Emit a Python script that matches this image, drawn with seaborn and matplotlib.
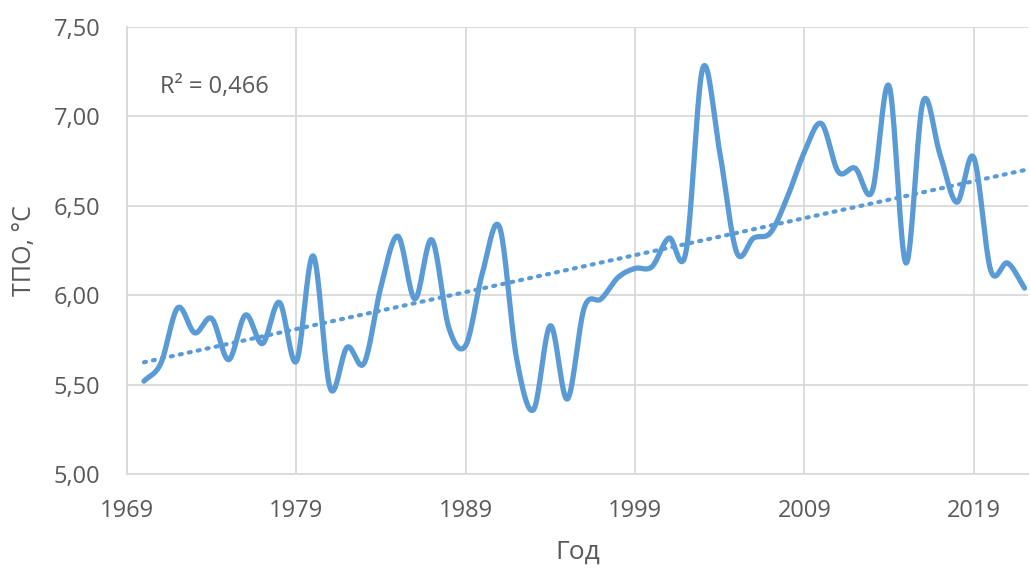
import numpy as np
import pandas as pd
import matplotlib
matplotlib.use("Agg")
import matplotlib.pyplot as plt
import seaborn as sns
from matplotlib.ticker import FuncFormatter, MultipleLocator

# Annual mean surface temperature (ТПО), °C
years = list(range(1970, 2023))
tpo = [
    5.52, 5.62, 5.93, 5.79, 5.87, 5.64, 5.89, 5.73, 5.96, 5.63,  # 1970-1979
    6.22, 5.48, 5.71, 5.62, 6.05, 6.33, 5.98, 6.31, 5.82, 5.72,  # 1980-1989
    6.13, 6.38, 5.65, 5.36, 5.83, 5.42, 5.93, 5.98, 6.10, 6.15,  # 1990-1999
    6.16, 6.32, 6.24, 7.27, 6.80, 6.24, 6.32, 6.35, 6.55, 6.80,  # 2000-2009
    6.96, 6.69, 6.71, 6.58, 7.17, 6.18, 7.08, 6.79, 6.52, 6.77,  # 2010-2019
    6.14, 6.18, 6.04,                                            # 2020-2022
]
x_ticks = [1969, 1979, 1989, 1999, 2009, 2019]
r2_label = "R² = 0,466"

LINE = "#5B9BD5"
TEXT = "#595959"
GRID = "#D9D9D9"


def smooth_curve(x, y, n=20):
    """Catmull-Rom style smoothing through every point (like a smoothed office chart line)."""
    x = np.asarray(x, float)
    y = np.asarray(y, float)
    px = np.concatenate([[2 * x[0] - x[1]], x, [2 * x[-1] - x[-2]]])
    py = np.concatenate([[2 * y[0] - y[1]], y, [2 * y[-1] - y[-2]]])
    xs, ys = [], []
    t = np.linspace(0, 1, n, endpoint=False)
    for i in range(1, len(px) - 2):
        p0x, p1x, p2x, p3x = px[i - 1:i + 3]
        p0y, p1y, p2y, p3y = py[i - 1:i + 3]
        # Bezier control points with tension 1/6
        c1x, c1y = p1x + (p2x - p0x) / 6, p1y + (p2y - p0y) / 6
        c2x, c2y = p2x - (p3x - p1x) / 6, p2y - (p3y - p1y) / 6
        bx = (1 - t) ** 3 * p1x + 3 * (1 - t) ** 2 * t * c1x + 3 * (1 - t) * t ** 2 * c2x + t ** 3 * p2x
        by = (1 - t) ** 3 * p1y + 3 * (1 - t) ** 2 * t * c1y + 3 * (1 - t) * t ** 2 * c2y + t ** 3 * p2y
        xs.append(bx)
        ys.append(by)
    xs.append([x[-1]])
    ys.append([y[-1]])
    return np.concatenate(xs), np.concatenate(ys)


sns.set_theme(style="white")
plt.rcParams["font.family"] = ["Open Sans", "DejaVu Sans"]

df = pd.DataFrame({"year": years, "tpo": tpo})
sx, sy = smooth_curve(df["year"], df["tpo"])
smooth = pd.DataFrame({"year": sx, "tpo": sy})

fig = plt.figure(figsize=(10.30, 5.72), dpi=100)
ax = fig.add_axes([0.1233, 0.171, 0.8747, 0.782])

sns.lineplot(data=smooth, x="year", y="tpo", ax=ax, color=LINE,
             linewidth=3.8, sort=False, estimator=None, zorder=3)
sns.regplot(data=df, x="year", y="tpo", ax=ax, scatter=False, ci=None,
            truncate=True,
            line_kws=dict(color=LINE, linewidth=3.0, linestyle=(0, (0.5, 1.7)),
                          dash_capstyle="round", zorder=2))

ax.set_xlim(1969, 2022.2)
ax.set_ylim(5.0, 7.5)
ax.set_xticks(x_ticks)
ax.yaxis.set_major_locator(MultipleLocator(0.5))
ax.yaxis.set_major_formatter(FuncFormatter(lambda v, p: f"{v:.2f}".replace(".", ",")))

ax.grid(True, color=GRID, linewidth=1.3, zorder=0)
ax.set_axisbelow(True)
for side in ("top", "right"):
    ax.spines[side].set_visible(False)
for side in ("left", "bottom"):
    ax.spines[side].set_color(GRID)
    ax.spines[side].set_linewidth(1.3)

ax.tick_params(axis="both", length=0, labelsize=17, labelcolor=TEXT)
ax.tick_params(axis="x", pad=18)
ax.tick_params(axis="y", pad=19)

ax.set_xlabel("Год", fontsize=19, color=TEXT, labelpad=12)
ax.set_ylabel("ТПО, °С", fontsize=18, color=TEXT, labelpad=12)

# R² annotation, positioned in figure pixels
ax.text(160, 572 - 87, r2_label, transform=None, fontsize=17, color=TEXT,
        ha="left", va="center")

fig.savefig("out.png", dpi=100, facecolor="white")
